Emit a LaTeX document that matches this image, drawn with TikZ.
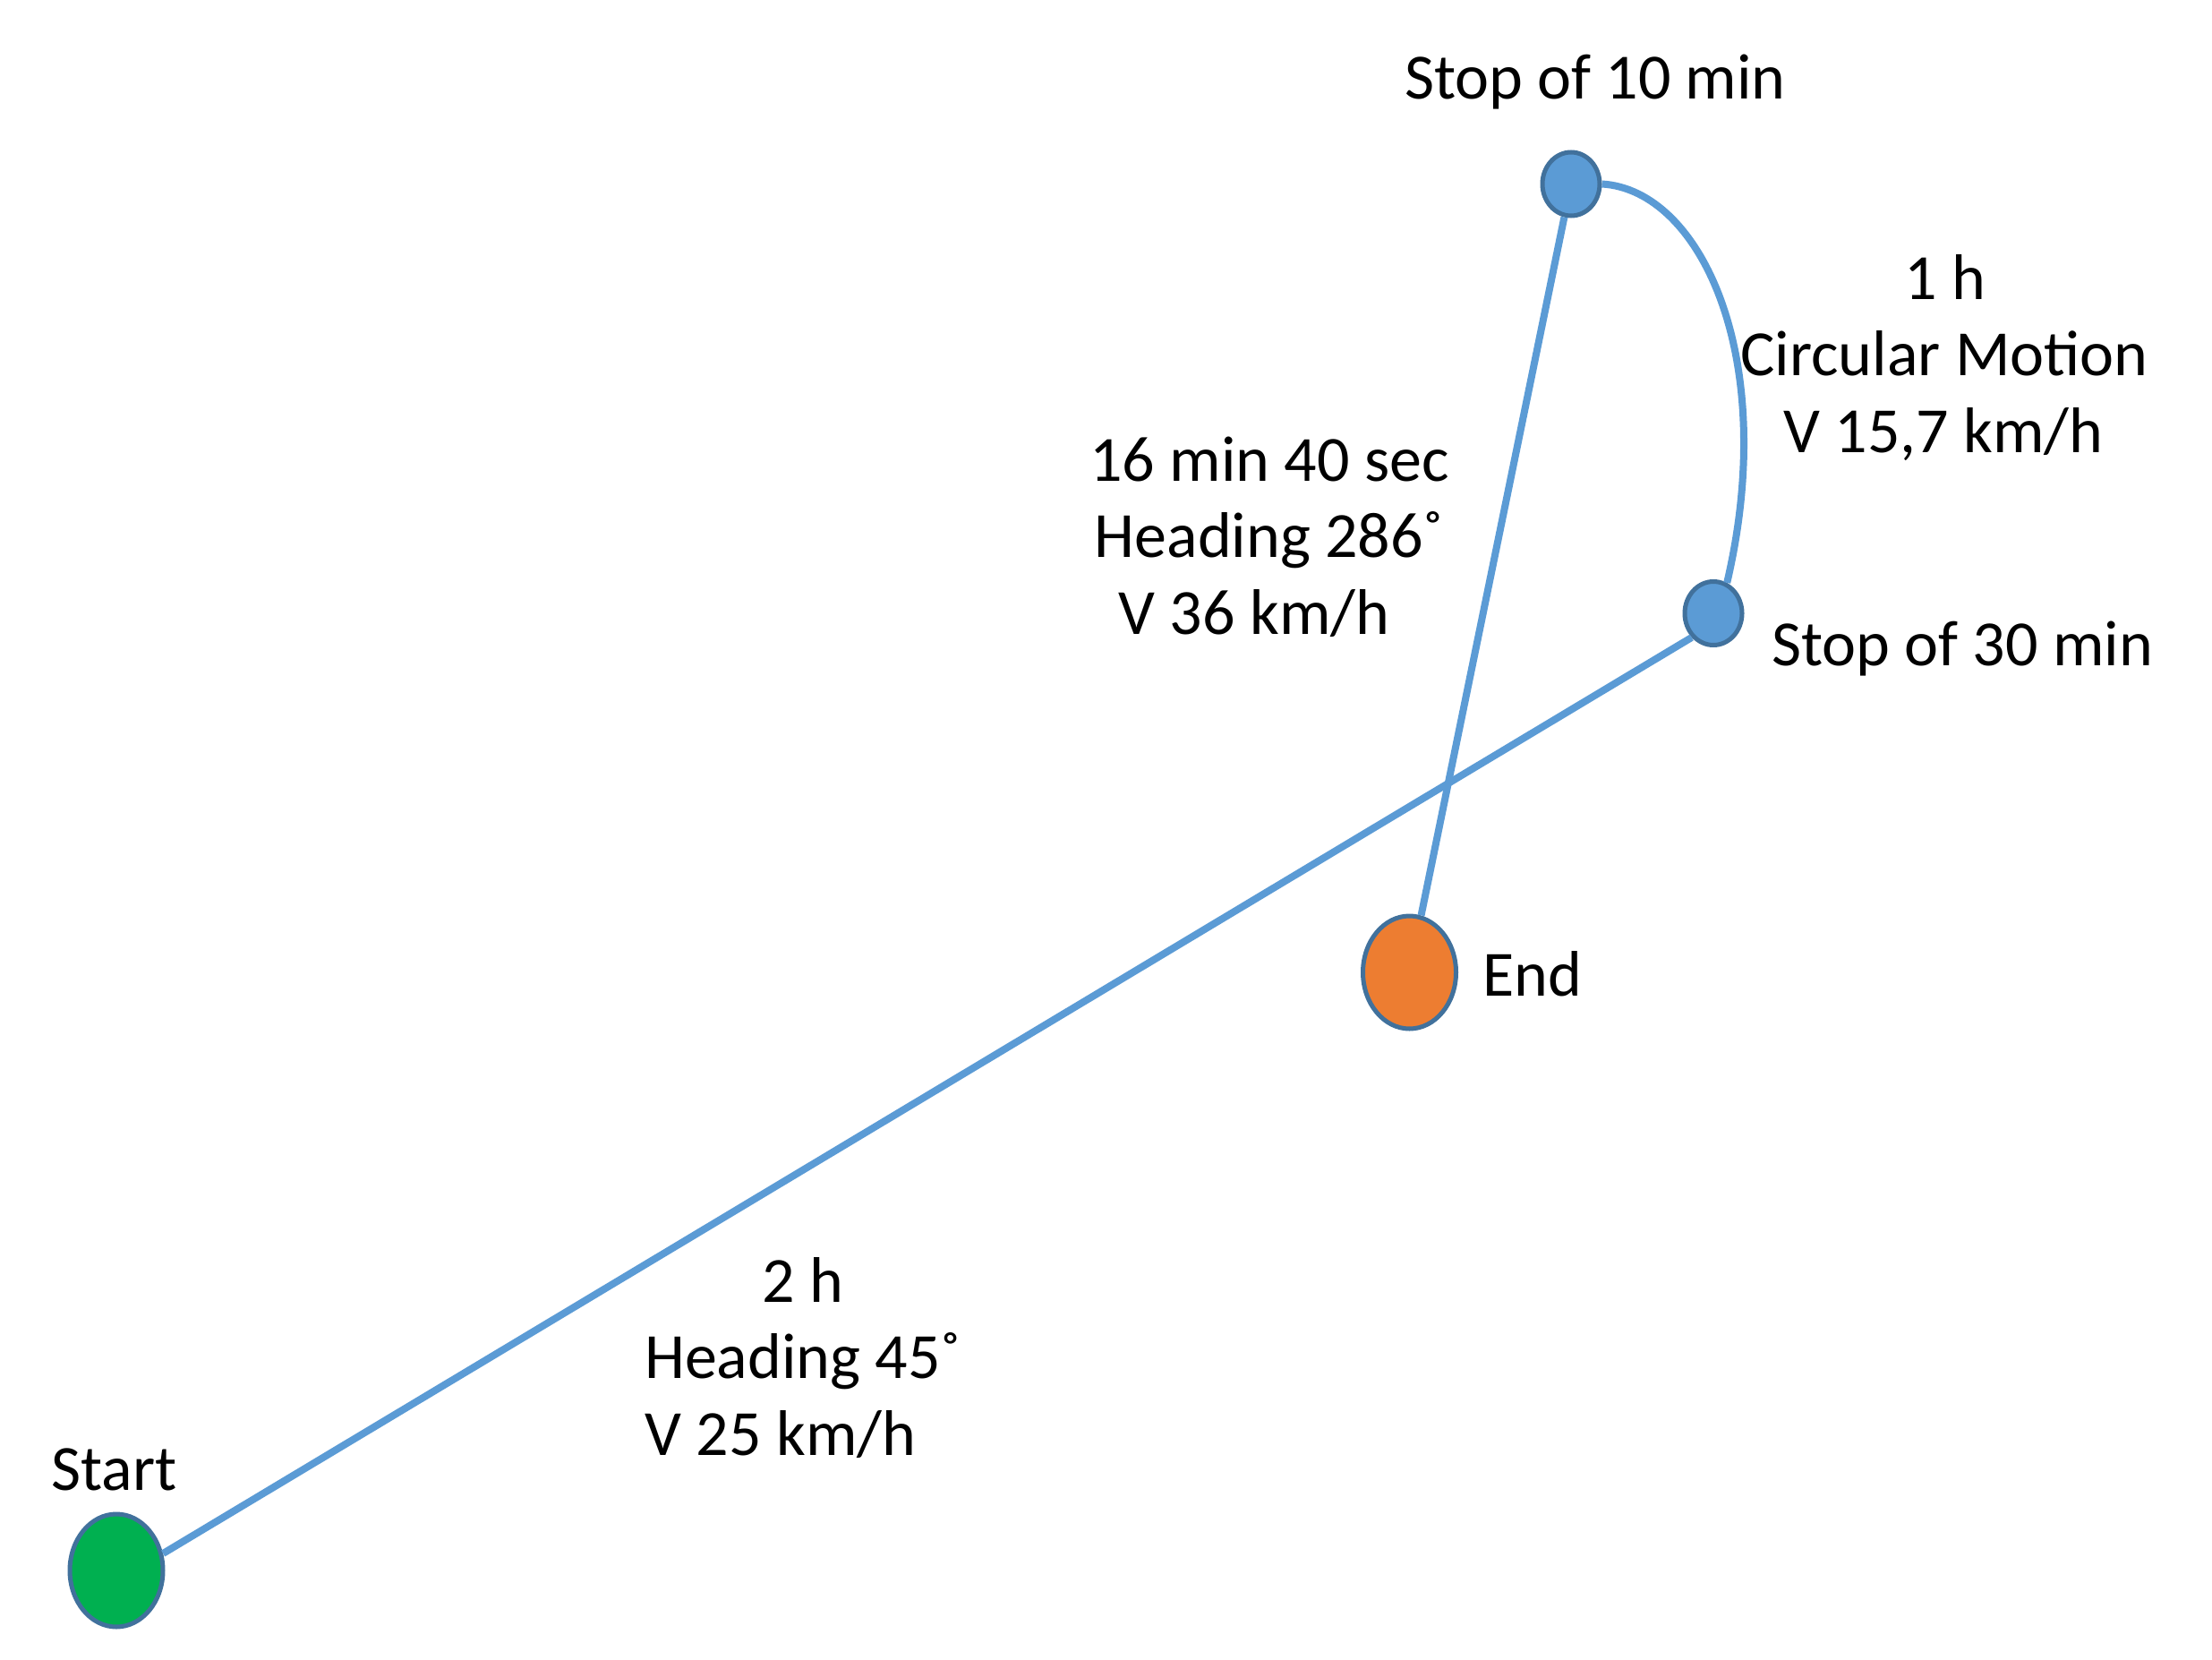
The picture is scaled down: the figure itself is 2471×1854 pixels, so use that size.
\documentclass[tikz,border=0pt]{standalone}
\usepackage{fontspec}
\setmainfont{Carlito}
\usetikzlibrary{shapes.geometric}
\definecolor{routeblue}{HTML}{5B9BD5}
\definecolor{rimblue}{HTML}{41719C}
\definecolor{startgreen}{HTML}{00B050}
\definecolor{endorange}{HTML}{ED7D31}
\begin{document}
\begin{tikzpicture}[x=1pt,y=-1pt,
  pt/.style={ellipse,draw=rimblue,line width=5pt,inner sep=0pt},
  route/.style={draw=routeblue,line width=8pt},
  lbl/.style={inner sep=0pt,font=\fontsize{72}{86}\selectfont,anchor=base}]
\useasboundingbox[fill=white] (0,0) rectangle (2471,1854);
% points
\node[pt,fill=startgreen,minimum width=104pt,minimum height=126pt] (start) at (130,1754) {};
\node[pt,fill=endorange,minimum width=104pt,minimum height=126pt] (end) at (1574.5,1086) {};
\node[pt,fill=routeblue,minimum width=64pt,minimum height=71pt] (stopA) at (1755,205.5) {};
\node[pt,fill=routeblue,minimum width=64pt,minimum height=71pt] (stopB) at (1914,685) {};
% connectors
\draw[route] (start.20) -- (stopB.228);
\draw[route] (stopA.east) .. controls (1900,212) and (1988,400) .. (stopB.66);
\draw[route] (end) -- (stopA);
% labels
\node[lbl] (tStart) at (127.5,1664) {Start};
\node[lbl,anchor=base west] (tEnd) at (1656,1112) {End};
\node[lbl,anchor=base west] (tStopB) at (1979,743) {Stop of 30 min};
\node[lbl] (tStopA) at (1782,111) {Stop of 10 min};
% leg labels
\node[lbl] (a1) at (1418,537) {16 min 40 sec};
\node[lbl] (a2) at (1418,622) {Heading 286˚};
\node[lbl] (a3) at (1401,708) {V 36 km/h};
\node[lbl] (b1) at (897,1454) {2 h};
\node[lbl] (b2) at (897,1539) {Heading 45˚};
\node[lbl] (b3) at (872,1625) {V 25 km/h};
\node[lbl] (c1) at (2173,334) {1 h};
\node[lbl] (c2) at (2172,419) {Circular Motion};
\node[lbl] (c3) at (2171,505) {V 15,7 km/h};
\end{tikzpicture}
\end{document}
